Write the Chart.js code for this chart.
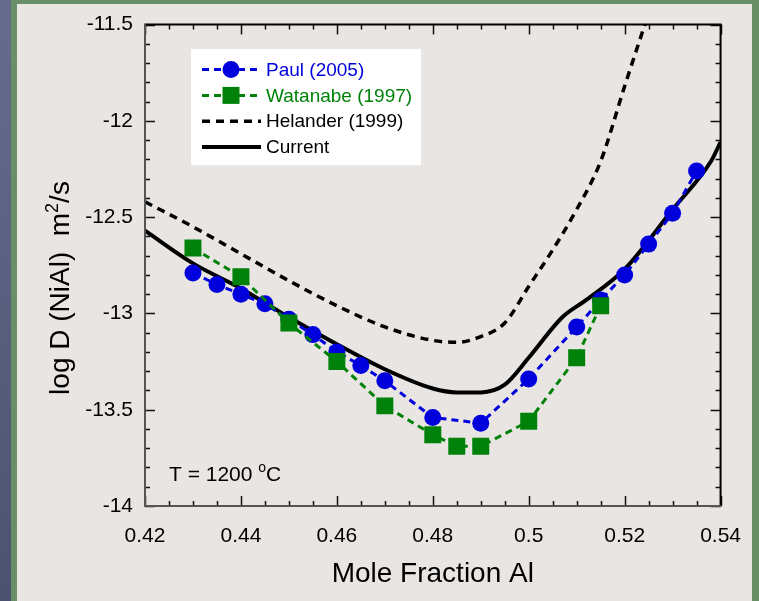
<!DOCTYPE html>
<html>
<head>
<meta charset="utf-8">
<script src="https://cdn.jsdelivr.net/npm/chart.js@4.4.0/dist/chart.umd.min.js"></script>
<style>
  html, body { margin: 0; padding: 0; overflow: hidden; }
  body { width: 759px; height: 601px; position: relative; background: linear-gradient(#666c8e, #4c526e); }
  #frame { position: absolute; left: 11px; top: 0; width: 748px; height: 601px; background: #688f68; }
  #panel { position: absolute; left: 17px; top: 4px; width: 735px; height: 597px; background: #e8e5e2; }
  #wrap { position: absolute; left: 0; top: 0; width: 759px; height: 601px; }
</style>
</head>
<body>
<div id="frame"></div>
<div id="panel"></div>
<div id="wrap"><canvas id="myChart" width="759" height="601"></canvas></div>
<script>
// data (mole fraction Al vs log D)
const paulX = [0.43, 0.435, 0.44, 0.445, 0.45, 0.455, 0.46, 0.465, 0.47, 0.48, 0.49, 0.50, 0.51, 0.515, 0.52, 0.525, 0.53, 0.535];
const paulY = [-12.79, -12.85, -12.90, -12.95, -13.03, -13.11, -13.20, -13.27, -13.35, -13.54, -13.57, -13.34, -13.07, -12.93, -12.80, -12.64, -12.48, -12.26];

const watanabeX = [0.43, 0.44, 0.45, 0.46, 0.47, 0.48, 0.485, 0.49, 0.50, 0.51, 0.515];
const watanabeY = [-12.66, -12.81, -13.05, -13.25, -13.48, -13.63, -13.69, -13.69, -13.56, -13.23, -12.96];

const helanderX = [0.42, 0.43, 0.44, 0.45, 0.46, 0.47, 0.48, 0.485, 0.49, 0.495, 0.50, 0.505, 0.51, 0.515, 0.52, 0.525];
const helanderY = [-12.42, -12.55, -12.69, -12.83, -12.96, -13.07, -13.14, -13.15, -13.12, -13.05, -12.86, -12.67, -12.46, -12.21, -11.82, -11.44];

const currentX = [0.42, 0.43, 0.44, 0.45, 0.46, 0.47, 0.48, 0.485, 0.49, 0.495, 0.50, 0.507, 0.512, 0.52, 0.53, 0.538, 0.54];
const currentY = [-12.57, -12.74, -12.87, -13.02, -13.16, -13.29, -13.39, -13.41, -13.41, -13.37, -13.23, -13.02, -12.93, -12.77, -12.46, -12.21, -12.11];

const xTicks = [0.42, 0.44, 0.46, 0.48, 0.5, 0.52, 0.54];
const yTicks = [-14, -13.5, -13, -12.5, -12, -11.5];

const FONT = "'Liberation Sans', Arial, sans-serif";
const BLUE = '#0000dc';
const GREEN = '#00820a';

const pts = (xs, ys) => xs.map((x, i) => ({ x: x, y: ys[i] }));
const fmt = v => String(+(+v).toFixed(3));

const decor = {
  id: 'decor',
  afterDraw(chart) {
    const ctx = chart.ctx;
    const ca = chart.chartArea;
    const xs = chart.scales.x, ys = chart.scales.y;
    ctx.save();

    // inward tick marks on all four sides
    ctx.lineWidth = 1.5;
    ctx.strokeStyle = '#111';
    for (let i = 0; i <= 24; i++) {
      const px = Math.round(xs.getPixelForValue(xTicks[0] + i * 0.005)) + 0.5;
      const len = i % 4 === 0 ? 10 : 5;
      ctx.beginPath();
      ctx.moveTo(px, ca.bottom); ctx.lineTo(px, ca.bottom - len);
      ctx.moveTo(px, ca.top); ctx.lineTo(px, ca.top + len);
      ctx.stroke();
    }
    for (let i = 0; i <= 25; i++) {
      const py = Math.round(ys.getPixelForValue(yTicks[0] + i * 0.1)) + 0.5;
      const len = i % 5 === 0 ? 10 : 5;
      ctx.beginPath();
      ctx.moveTo(ca.left, py); ctx.lineTo(ca.left + len, py);
      ctx.moveTo(ca.right, py); ctx.lineTo(ca.right - len, py);
      ctx.stroke();
    }

    // frame
    ctx.lineWidth = 2;
    ctx.strokeStyle = '#000';
    ctx.beginPath();
    ctx.moveTo(ca.left, ca.top); ctx.lineTo(ca.right, ca.top); ctx.lineTo(ca.right, ca.bottom);
    ctx.stroke();
    ctx.strokeStyle = '#555';
    ctx.beginPath();
    ctx.moveTo(ca.left, ca.top - 1); ctx.lineTo(ca.left, ca.bottom); ctx.lineTo(ca.right + 1, ca.bottom);
    ctx.stroke();

    // legend box
    const bx = ca.left + 46, by = ca.top + 24.5, bw = 230, bh = 116;
    ctx.fillStyle = '#ffffff';
    ctx.fillRect(bx, by, bw, bh);
    const textColors = [BLUE, GREEN, '#000', '#000'];
    chart.data.datasets.forEach((ds, k) => {
      const y = by + 20.5 + k * 25.8;
      ctx.save();
      ctx.strokeStyle = ds.borderColor;
      ctx.lineWidth = ds.borderWidth;
      ctx.setLineDash(ds.borderDash || []);
      ctx.beginPath();
      ctx.moveTo(bx + 11, y); ctx.lineTo(bx + 70, y);
      ctx.stroke();
      ctx.restore();
      ctx.fillStyle = ds.backgroundColor;
      if (ds.pointRadius > 0) {
        if (ds.pointStyle === 'rect') {
          ctx.fillRect(bx + 40 - 8.5, y - 8.5, 17, 17);
        } else {
          ctx.beginPath();
          ctx.arc(bx + 40, y, 8.5, 0, Math.PI * 2);
          ctx.fill();
        }
      }
      ctx.fillStyle = textColors[k];
      ctx.font = '19px ' + FONT;
      ctx.textBaseline = 'middle';
      ctx.textAlign = 'left';
      ctx.fillText(ds.label, bx + 75, y + 1);
    });

    // temperature note
    ctx.fillStyle = '#000';
    ctx.textBaseline = 'alphabetic';
    ctx.font = '21px ' + FONT;
    let tx = ca.left + 24;
    const ty = 481;
    ctx.fillText('T = 1200 ', tx, ty);
    tx += ctx.measureText('T = 1200 ').width;
    ctx.font = '14px ' + FONT;
    ctx.fillText('o', tx, ty - 9);
    tx += ctx.measureText('o').width;
    ctx.font = '21px ' + FONT;
    ctx.fillText('C', tx, ty);

    // y axis title with superscript
    ctx.translate(69, 288);
    ctx.rotate(-Math.PI / 2);
    const parts = [['log D (NiAl)  m', 28, 0], ['2', 18, -11], ['/s', 28, 0]];
    let total = 0;
    parts.forEach(p => { ctx.font = p[1] + 'px ' + FONT; total += ctx.measureText(p[0]).width; });
    let cx = -total / 2;
    parts.forEach(p => {
      ctx.font = p[1] + 'px ' + FONT;
      ctx.fillText(p[0], cx, p[2]);
      cx += ctx.measureText(p[0]).width;
    });
    ctx.restore();
  }
};

const myChart = new Chart(document.getElementById('myChart').getContext('2d'), {
  type: 'line',
  data: {
    datasets: [
      {
        label: 'Paul (2005)',
        data: pts(paulX, paulY),
        order: 1,
        borderColor: BLUE,
        backgroundColor: BLUE,
        borderWidth: 3,
        borderDash: [7, 5],
        pointStyle: 'circle',
        pointRadius: 8.5,
        pointBorderWidth: 0,
        tension: 0
      },
      {
        label: 'Watanabe (1997)',
        data: pts(watanabeX, watanabeY),
        order: 0,
        borderColor: GREEN,
        backgroundColor: GREEN,
        borderWidth: 3,
        borderDash: [7, 5],
        pointStyle: 'rect',
        pointRadius: 12,
        pointBorderWidth: 0,
        tension: 0
      },
      {
        label: 'Helander (1999)',
        data: pts(helanderX, helanderY),
        order: 2,
        borderColor: '#000',
        backgroundColor: '#000',
        borderWidth: 3.5,
        borderDash: [8, 6],
        pointRadius: 0,
        cubicInterpolationMode: 'monotone'
      },
      {
        label: 'Current',
        data: pts(currentX, currentY),
        order: 3,
        borderColor: '#000',
        backgroundColor: '#000',
        borderWidth: 4,
        pointRadius: 0,
        cubicInterpolationMode: 'monotone'
      }
    ]
  },
  options: {
    responsive: false,
    animation: false,
    layout: { padding: { left: 0, top: 23.5, right: 38, bottom: 0 } },
    plugins: { legend: { display: false }, tooltip: { enabled: false } },
    scales: {
      x: {
        type: 'linear',
        min: 0.42,
        max: 0.54,
        afterFit: s => { s.height = 95; },
        afterBuildTicks: s => { s.ticks = xTicks.map(v => ({ value: v })); },
        grid: { display: false, drawTicks: false },
        border: { display: false },
        ticks: { font: { size: 21, family: FONT }, color: '#000', padding: 18, maxRotation: 0, callback: fmt },
        title: { display: true, text: 'Mole Fraction Al', color: '#000', font: { size: 28, family: FONT }, padding: { top: 0, bottom: 10 } }
      },
      y: {
        type: 'linear',
        min: -14,
        max: -11.5,
        afterFit: s => { s.width = 145; },
        afterBuildTicks: s => { s.ticks = yTicks.map(v => ({ value: v })); },
        grid: { display: false, drawTicks: false },
        border: { display: false },
        ticks: { font: { size: 21, family: FONT }, color: '#000', padding: 12, callback: fmt }
      }
    }
  },
  plugins: [decor]
});
</script>
</body>
</html>
